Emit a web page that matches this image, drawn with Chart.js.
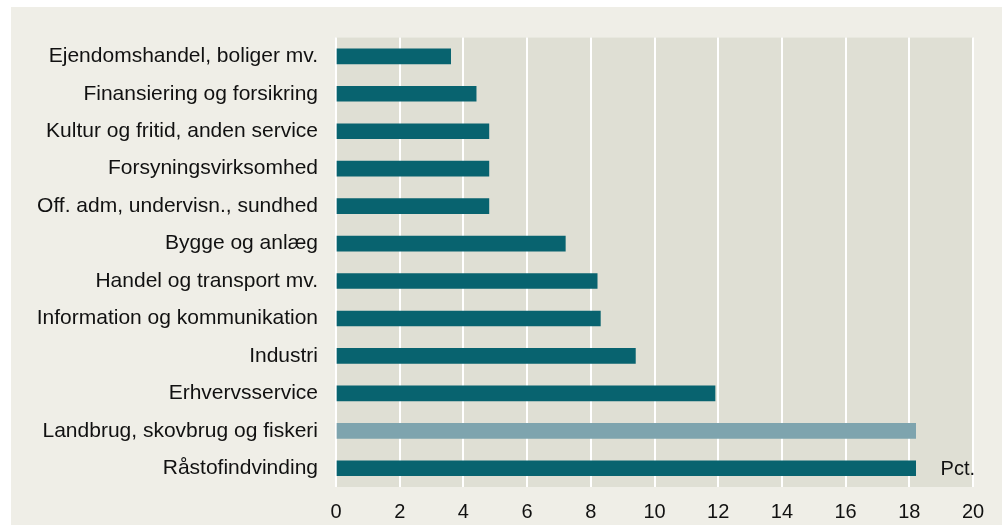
<!DOCTYPE html>
<html>
<head>
<meta charset="utf-8">
<script src="https://cdn.jsdelivr.net/npm/chart.js@4"></script>
<style>
    body { margin: 0; background: #ffffff; }
    #panel { position: absolute; left: 11px; top: 7px; width: 991px; height: 518px; background: #efeee7; }
</style>
</head>
<body>
<div id="panel"><canvas id="myChart" width="991" height="518"></canvas></div>
<script>
const categories = [
    'Ejendomshandel, boliger mv.',
    'Finansiering og forsikring',
    'Kultur og fritid, anden service',
    'Forsyningsvirksomhed',
    'Off. adm, undervisn., sundhed',
    'Bygge og anlæg',
    'Handel og transport mv.',
    'Information og kommunikation',
    'Industri',
    'Erhvervsservice',
    'Landbrug, skovbrug og fiskeri',
    'Råstofindvinding'
];
const values = [3.6, 4.4, 4.8, 4.8, 4.8, 7.2, 8.2, 8.3, 9.4, 11.9, 18.2, 18.2];
const highlighted = 'Landbrug, skovbrug og fiskeri';
const xTicks = [0, 2, 4, 6, 8, 10, 12, 14, 16, 18, 20];
const unitLabel = 'Pct.';

const barColors = categories.map(c => c === highlighted ? '#7ea4ae' : '#08636f');

const plotBackground = {
    id: 'plotBackground',
    beforeDraw(chart) {
        const { ctx, chartArea } = chart;
        ctx.save();
        ctx.fillStyle = '#dfdfd4';
        ctx.fillRect(chartArea.left, chartArea.top, chartArea.right - chartArea.left, chartArea.bottom - chartArea.top);
        ctx.restore();
    }
};

const unitText = {
    id: 'unitText',
    afterDraw(chart) {
        const { ctx, scales } = chart;
        ctx.save();
        ctx.font = '20px "Liberation Sans", Arial, sans-serif';
        ctx.fillStyle = '#111111';
        ctx.textAlign = 'right';
        ctx.textBaseline = 'middle';
        ctx.fillText(unitLabel, scales.x.right + 2, scales.y.getPixelForValue(categories.length - 1) + 1);
        ctx.restore();
    }
};

let ctx = document.getElementById('myChart').getContext('2d');
let myChart = new Chart(ctx, {
    type: 'bar',
    data: {
        labels: categories,
        datasets: [{
            data: values,
            backgroundColor: barColors,
            barThickness: 15
        }]
    },
    options: {
        indexAxis: 'y',
        responsive: false,
        animation: false,
        layout: { padding: { top: 20, right: 29, bottom: 0, left: 0 } },
        plugins: {
            legend: { display: false },
            tooltip: { enabled: false }
        },
        scales: {
            x: {
                min: 0,
                max: 20,
                afterBuildTicks: scale => { scale.ticks = xTicks.map(v => ({ value: v })); },
                afterFit: scale => { scale.height = 38; },
                grid: { color: '#ffffff', lineWidth: 2, drawTicks: false },
                border: { display: false },
                ticks: {
                    padding: 13,
                    color: '#111111',
                    font: { family: '"Liberation Sans", Arial, sans-serif', size: 20 }
                }
            },
            y: {
                afterFit: scale => { scale.width = 325; },
                grid: { display: false, drawTicks: false },
                border: { display: false },
                ticks: {
                    autoSkip: false,
                    padding: 18,
                    color: '#111111',
                    font: { family: '"Liberation Sans", Arial, sans-serif', size: 21 }
                }
            }
        }
    },
    plugins: [plotBackground, unitText]
});
</script>
</body>
</html>
